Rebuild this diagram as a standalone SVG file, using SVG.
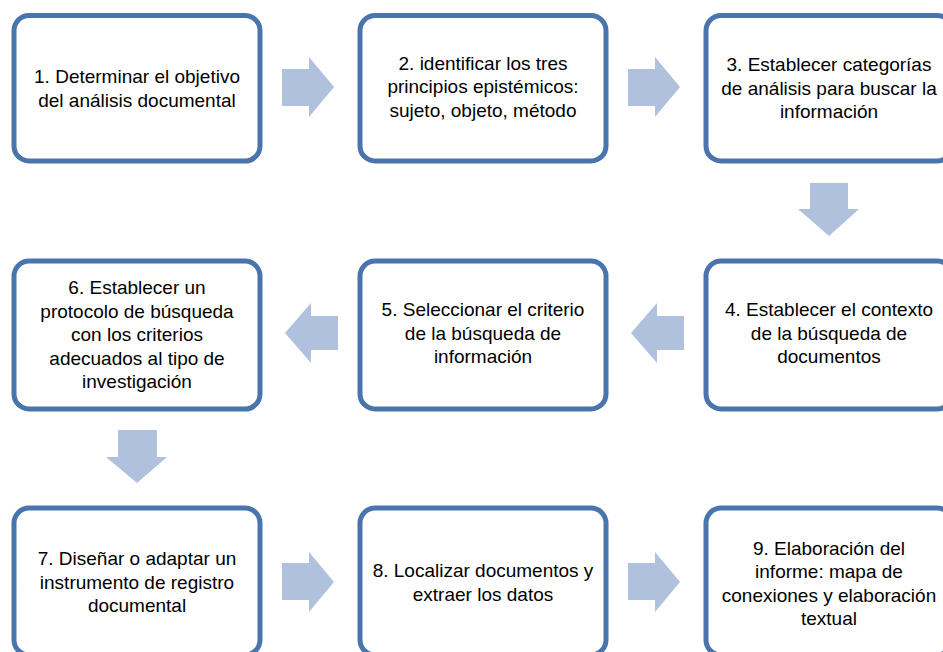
<svg xmlns="http://www.w3.org/2000/svg" width="943" height="652" viewBox="0 0 943 652">
<style>
.box{fill:#ffffff;stroke:#4a74ac;stroke-width:5}
.arr{fill:#b0c1dd;stroke:none}
text{font-family:"Liberation Sans",Arial,sans-serif;font-size:19px;fill:#000;text-anchor:middle}
</style>
<rect width="943" height="652" fill="#ffffff"/>
<g id="connectors">
<polygon class="arr" points="282,69 309,69 309,57 334,87 309,117 309,106 282,106"/>
<polygon class="arr" points="628,69 655,69 655,57 680,87 655,117 655,106 628,106"/>
<polygon class="arr" points="810,183 848,183 848,209 859,209 829,236 798,209 810,209"/>
<polygon class="arr" points="684,316 657,316 657,303 631,333 657,363 657,350 684,350"/>
<polygon class="arr" points="338,316 311,316 311,303 285,333 311,363 311,350 338,350"/>
<polygon class="arr" points="118,430 157,430 157,457 167,457 137,483 106,457 118,457"/>
<polygon class="arr" points="282,563 309,563 309,552 334,582 309,612 309,600 282,600"/>
<polygon class="arr" points="628,563 655,563 655,552 680,582 655,612 655,600 628,600"/>
</g>
<g id="n1">
<rect class="box" x="14" y="15.5" width="246" height="145.5" rx="15"/>
<text x="137" y="82.5">1. Determinar el objetivo</text>
<text x="137" y="106.5">del análisis documental</text>
</g>
<g id="n2">
<rect class="box" x="360" y="15.5" width="246" height="145.5" rx="15"/>
<text x="483" y="69.5">2. identificar los tres</text>
<text x="483" y="93">principios epistémicos:</text>
<text x="483" y="116.5">sujeto, objeto, método</text>
</g>
<g id="n3">
<rect class="box" x="706" y="15.5" width="246" height="145.5" rx="15"/>
<text x="829" y="71">3. Establecer categorías</text>
<text x="829" y="94.5">de análisis para buscar la</text>
<text x="829" y="118">información</text>
</g>
<g id="n4">
<rect class="box" x="706" y="261" width="246" height="148" rx="15"/>
<text x="829" y="316">4. Establecer el contexto</text>
<text x="829" y="339.5">de la búsqueda de</text>
<text x="829" y="363">documentos</text>
</g>
<g id="n5">
<rect class="box" x="360" y="261" width="246" height="148" rx="15"/>
<text x="483" y="316">5. Seleccionar el criterio</text>
<text x="483" y="339.5">de la búsqueda de</text>
<text x="483" y="363">información</text>
</g>
<g id="n6">
<rect class="box" x="14" y="261" width="246" height="148" rx="15"/>
<text x="137" y="294">6. Establecer un</text>
<text x="137" y="317.5">protocolo de búsqueda</text>
<text x="137" y="341">con los criterios</text>
<text x="137" y="364.5">adecuados al tipo de</text>
<text x="137" y="388">investigación</text>
</g>
<g id="n7">
<rect class="box" x="14" y="508" width="246" height="147" rx="15"/>
<text x="137" y="565">7. Diseñar o adaptar un</text>
<text x="137" y="588.5">instrumento de registro</text>
<text x="137" y="612">documental</text>
</g>
<g id="n8">
<rect class="box" x="360" y="508" width="246" height="147" rx="15"/>
<text x="483" y="577">8. Localizar documentos y</text>
<text x="483" y="600.5">extraer los datos</text>
</g>
<g id="n9">
<rect class="box" x="706" y="508" width="246" height="147" rx="15"/>
<text x="829" y="554.5">9. Elaboración del</text>
<text x="829" y="578">informe: mapa de</text>
<text x="829" y="601.5">conexiones y elaboración</text>
<text x="829" y="625">textual</text>
</g>
</svg>
